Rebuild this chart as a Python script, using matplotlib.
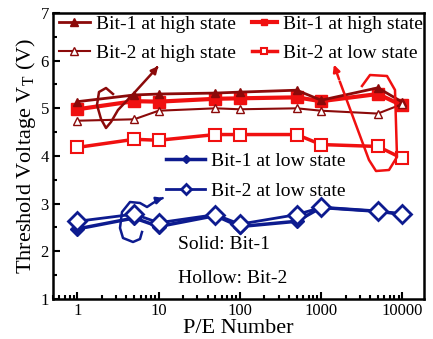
import matplotlib
matplotlib.use("Agg")
import matplotlib.pyplot as plt
from matplotlib.ticker import LogLocator, FixedLocator, NullFormatter, MultipleLocator

plt.rcParams['font.family'] = ['Liberation Serif', 'DejaVu Serif']
plt.rcParams['mathtext.fontset'] = 'stix'

cycles = [1, 5, 10, 50, 100, 500, 1000, 5000, 10000]
bit1_high_a = [5.14, 5.28, 5.30, 5.32, 5.34, 5.38, 5.17, 5.43, 5.13]
bit2_high_a = [4.74, 4.77, 4.95, 5.00, 4.98, 5.00, 4.95, 4.89, 5.09]
bit1_high_b = [4.98, 5.15, 5.14, 5.20, 5.21, 5.23, 5.15, 5.30, 5.06]
bit2_low_b = [4.18, 4.35, 4.33, 4.45, 4.45, 4.45, 4.24, 4.20, 3.95]
bit1_low = [2.47, 2.70, 2.52, 2.75, 2.52, 2.63, 2.92, 2.84, 2.78]
bit2_low = [2.63, 2.78, 2.60, 2.77, 2.57, 2.77, 2.92, 2.84, 2.78]

dred = '#8b0a0a'
red = '#f01010'
blue = '#0d1b8f'

fig = plt.figure(figsize=(4.33, 3.39), dpi=100)
ax = fig.add_axes([0.1224, 0.118, 0.8568, 0.8437])

l1, = ax.plot(cycles, bit1_high_a, '-^', color=dred, lw=2, ms=6, label='Bit-1 at high state', zorder=4)
l2, = ax.plot(cycles, bit2_high_a, '-^', color=dred, lw=1.5, ms=6, mfc='white', label='Bit-2 at high state', zorder=4)
l3, = ax.plot(cycles, bit1_high_b, '-s', color=red, lw=3, ms=8.5, label='Bit-1 at high state', zorder=3)
l4, = ax.plot(cycles, bit2_low_b, '-s', color=red, lw=2.5, ms=9, mfc='white', mew=1.5, label='Bit-2 at low state', zorder=3)
l5, = ax.plot(cycles, bit1_low, '-D', color=blue, lw=2.5, ms=7.5, label='Bit-1 at low state', zorder=3)
l6, = ax.plot(cycles, bit2_low, '-D', color=blue, lw=2, ms=9, mfc='white', mew=2, label='Bit-2 at low state', zorder=3)

ax.set_xscale('log')
ax.set_xlim(0.5, 18500)
ax.set_ylim(1, 7)
ax.xaxis.set_major_locator(FixedLocator([1, 10, 100, 1000, 10000]))
ax.set_xticklabels(['1', '10', '100', '1000', '10000'])
ax.xaxis.set_minor_locator(LogLocator(base=10, subs=range(2, 10)))
ax.xaxis.set_minor_formatter(NullFormatter())
ax.yaxis.set_major_locator(MultipleLocator(1))
ax.yaxis.set_minor_locator(MultipleLocator(0.5))
ax.tick_params(which='both', direction='in', top=False, right=False, labelsize=12, width=1.5)
ax.tick_params(which='major', length=5, pad=3)
ax.tick_params(which='minor', length=3)
for s in ax.spines.values():
    s.set_linewidth(1.8)

ax.set_xlabel('P/E Number', fontsize=16, labelpad=0)
ax.set_ylabel('Threshold Voltage V$_\\mathregular{T}$ (V)', fontsize=16, labelpad=2)

kw = dict(frameon=False, fontsize=14, borderaxespad=0, borderpad=0.1, handletextpad=0.3)
leg1 = ax.legend(handles=[l1, l2], loc='upper left', bbox_to_anchor=(0.01, 1.0), handlelength=1.6,
                 labelspacing=0.6, **kw)
ax.add_artist(leg1)
leg2 = ax.legend(handles=[l3, l4], loc='upper left', bbox_to_anchor=(0.53, 1.0), handlelength=1.3,
                 markerscale=0.5, labelspacing=0.6, **kw)
ax.add_artist(leg2)
ax.legend(handles=[l5, l6], loc='upper left', bbox_to_anchor=(0.30, 0.52), handlelength=2.0,
          markerscale=0.6, labelspacing=0.65, **kw)

ax.text(0.337, 0.189, 'Solid: Bit-1', transform=ax.transAxes, fontsize=14, va='center')
ax.text(0.337, 0.073, 'Hollow: Bit-2', transform=ax.transAxes, fontsize=14, va='center')


# hand-drawn annotation strokes, in image pixels (y down)
def px(points):
    return [p[0] / 433 for p in points], [1 - p[1] / 339 for p in points]


def stroke(points, color, head):
    xs, ys = px(points)
    fig.lines.append(plt.Line2D(xs, ys, color=color, lw=1.8, transform=fig.transFigure, zorder=6))
    hx, hy = px([head])
    fig.patches.append(matplotlib.patches.FancyArrowPatch((xs[-1], ys[-1]), (hx[0], hy[0]),
                       transform=fig.transFigure, arrowstyle='-|>', mutation_scale=10, color=color, lw=1.8))


stroke([(113, 94), (106, 88), (99, 92), (97, 105), (101, 119), (106, 128), (111, 122),
        (118, 110), (135, 92), (155, 70)], dred, (160, 64))
stroke([(362, 86), (370, 75), (387, 76), (395, 90), (397, 157), (389, 170), (376, 171),
        (369, 160), (340, 82)], red, (333, 62))
stroke([(142, 232), (140, 239), (133, 242), (123, 238), (120, 228), (122, 212), (130, 202),
        (140, 203), (147, 207), (153, 203), (160, 199)], blue, (166, 197))

fig.savefig('out.png', dpi=100)
